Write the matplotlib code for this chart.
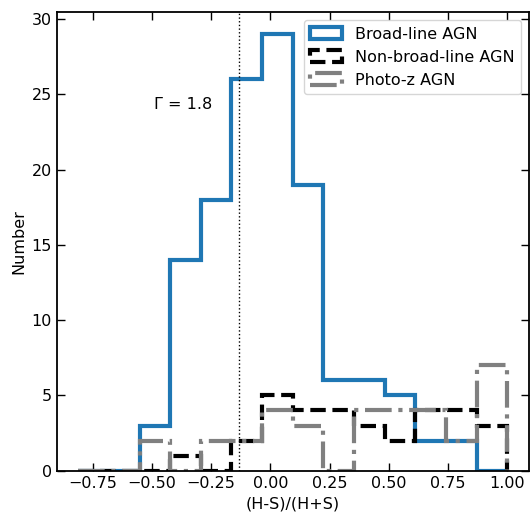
import numpy as np
from matplotlib import pyplot as plt

# shared bin edges of the hardness-ratio histograms
edges = [-0.810, -0.681, -0.551, -0.422, -0.293, -0.164, -0.034,
         0.095, 0.224, 0.353, 0.483, 0.612, 0.741, 0.871, 1.000]

# counts per bin
broad_line = [0, 0, 3, 14, 18, 26, 29, 19, 6, 6, 5, 2, 2, 0]
non_broad = [0, 0, 0, 1, 0, 2, 5, 4, 4, 3, 2, 4, 4, 3]
photo_z = [0, 0, 2, 0, 2, 2, 4, 3, 0, 4, 4, 4, 2, 7]

gamma_hr = -0.132  # HR for Gamma = 1.8

edges = np.array(edges)
left = edges[:-1]

fig = plt.figure(figsize=(5.31, 5.12), dpi=100)
ax = fig.add_axes([0.107, 0.0807, 0.889, 0.8953])

fs = 11.5
ax.hist(left, bins=edges, weights=broad_line, histtype='step', color='#1f77b4',
        linewidth=3, label='Broad-line AGN')
ax.hist(left, bins=edges, weights=non_broad, histtype='step', color='black',
        linewidth=3, linestyle='--', label='Non-broad-line AGN')
ax.hist(left, bins=edges, weights=photo_z, histtype='step', color='gray',
        linewidth=3, linestyle='-.', label='Photo-z AGN')

ax.axvline(gamma_hr, color='black', linestyle=':', linewidth=1)
ax.text(-0.49, 24.3, 'Γ = 1.8', fontsize=fs, va='center', ha='left')

ax.set_xlabel('(H-S)/(H+S)', fontsize=fs)
ax.set_ylabel('Number', fontsize=fs)
ax.tick_params(direction='in', top=True, right=True, length=6, width=1,
               labelsize=fs)
for s in ax.spines.values():
    s.set_linewidth(1.3)

ax.legend(loc='upper right', fontsize=fs)

plt.savefig('out.png', dpi=100)
